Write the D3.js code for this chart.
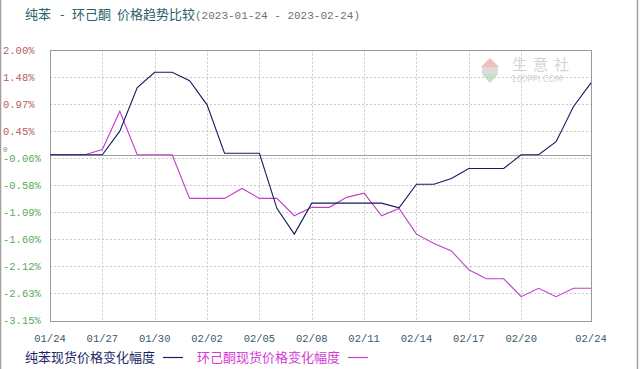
<!DOCTYPE html>
<html><head><meta charset="utf-8">
<script src="https://cdn.jsdelivr.net/npm/d3@7"></script>
<style>body{margin:0;background:#fff;}svg{display:block;}</style>
</head><body>
<svg id="c" width="640" height="369"></svg>
<script>
const dates = ["2023-01-24","2023-01-25","2023-01-26","2023-01-27","2023-01-28","2023-01-29","2023-01-30","2023-01-31",
"2023-02-01","2023-02-02","2023-02-03","2023-02-04","2023-02-05","2023-02-06","2023-02-07","2023-02-08",
"2023-02-09","2023-02-10","2023-02-11","2023-02-12","2023-02-13","2023-02-14","2023-02-15","2023-02-16",
"2023-02-17","2023-02-18","2023-02-19","2023-02-20","2023-02-21","2023-02-22","2023-02-23","2023-02-24"];
const benzene = [0,0,0,0,0.45,1.28,1.57,1.57,1.41,0.95,0.03,0.03,0.03,-1.02,-1.51,-0.92,
-0.92,-0.92,-0.92,-0.92,-1.01,-0.56,-0.56,-0.45,-0.26,-0.26,-0.26,0,0,0.25,0.92,1.37];
const cyclohexanone = [0,0,0,0.10,0.83,0,0,0,-0.83,-0.83,-0.83,-0.64,-0.83,-0.83,-1.16,-1.0,
-1.0,-0.81,-0.73,-1.16,-1.02,-1.51,-1.69,-1.83,-2.19,-2.36,-2.36,-2.70,-2.54,-2.70,-2.54,-2.54];
const seriesNames = ["纯苯现货价格变化幅度","环己酮现货价格变化幅度"];
const yTickValues = [2.00,1.485,0.97,0.455,-0.06,-0.575,-1.09,-1.605,-2.12,-2.635,-3.15];
const yTickLabels = ["2.00%","1.48%","0.97%","0.45%","-0.06%","-0.58%","-1.09%","-1.60%","-2.12%","-2.63%","-3.15%"];
const xTickDates = ["2023-01-24","2023-01-27","2023-01-30","2023-02-02","2023-02-05","2023-02-08","2023-02-11","2023-02-14","2023-02-17","2023-02-20","2023-02-24"];
const xTickLabels = ["01/24","01/27","01/30","02/02","02/05","02/08","02/11","02/14","02/17","02/20","02/24"];
const titleParts = ["纯苯","-","环己酮","价格趋势比较"];
const titleRange = "(2023-01-24 - 2023-02-24)";

const svg = d3.select("#c");
const L=50, R=591, T=49.7, B=320.3;
const parse = d3.timeParse("%Y-%m-%d");
const x = d3.scaleTime().domain([parse(dates[0]), parse(dates[dates.length-1])]).range([L,R]);
const y = d3.scaleLinear().domain([-3.15,2.00]).range([B,T]);

// outer side borders
svg.append("line").attr("x1",0.5).attr("x2",0.5).attr("y1",0).attr("y2",369).attr("stroke","#a0a0a0").attr("stroke-width",1.5);
svg.append("line").attr("x1",637.5).attr("x2",637.5).attr("y1",0).attr("y2",369).attr("stroke","#a0a0a0").attr("stroke-width",1.5);

// title
const tx = [25,60,72,117];
titleParts.forEach((p,i)=>{
  svg.append("text").attr("x",tx[i]).attr("y",19).attr("font-size",13).attr("fill","#2b5f6b")
    .attr("font-family","'Noto Sans CJK SC',sans-serif").text(p);
});
svg.append("text").attr("x",195).attr("y",19).attr("fill","#707070").attr("font-family","'Liberation Mono',monospace")
  .attr("font-size",11).text(titleRange);

// watermark
const wm = svg.append("g").attr("opacity",0.45);
wm.append("path").attr("d","M481,67 L490,58 L499,67 Z").attr("fill","#e07070");
wm.append("rect").attr("x",482).attr("y",67).attr("width",16).attr("height",7).attr("fill","#b0b0b0");
wm.append("path").attr("d","M482,74 L498,74 L490,83 Z").attr("fill","#80c080");
wm.append("text").attr("x",512).attr("y",70).attr("font-size",15).attr("fill","#9aa0a8").attr("letter-spacing",6).attr("font-family","'Noto Sans CJK SC',sans-serif").text("生意社");
wm.append("text").attr("x",511).attr("y",82).attr("font-size",8.5).attr("fill","#9aa0a8").attr("font-family","'DejaVu Sans',sans-serif").text("100PPI.COM");

// grid
const g = svg.append("g");
g.selectAll("line.h").data(yTickValues.slice(1,-1)).join("line")
  .attr("x1",L).attr("x2",R).attr("y1",d=>Math.round(y(d))+0.5).attr("y2",d=>Math.round(y(d))+0.5)
  .attr("stroke","#c8c8c8").attr("stroke-dasharray","2,2");
g.selectAll("line.v").data(xTickDates.slice(1,-1)).join("line")
  .attr("x1",d=>Math.round(x(parse(d)))+0.5).attr("x2",d=>Math.round(x(parse(d)))+0.5).attr("y1",T).attr("y2",B)
  .attr("stroke","#c8c8c8").attr("stroke-dasharray","2,2");
// frame
svg.append("rect").attr("x",L+0.5).attr("y",Math.round(T)+0.5).attr("width",R-L).attr("height",Math.round(B-T))
  .attr("fill","none").attr("stroke","#9a9a9a");
// zero line
svg.append("line").attr("x1",L).attr("x2",R).attr("y1",Math.round(y(0))+0.5).attr("y2",Math.round(y(0))+0.5).attr("stroke","#a0a0a0");

// y labels
svg.selectAll("text.yl").data(yTickValues).join("text")
  .attr("x",3).attr("y",d=>y(d)+4).attr("font-size",10.5).attr("font-family","'Liberation Mono',monospace")
  .attr("fill",(d,i)=>i<4?"#b85c5c":"#5aa85a").text((d,i)=>yTickLabels[i]);
svg.append("text").attr("x",3).attr("y",y(0)-3).attr("font-size",7.5).attr("font-family","'Liberation Mono',monospace").attr("fill","#888").text("0");

// x labels
svg.selectAll("text.xl").data(xTickDates).join("text")
  .attr("x",d=>x(parse(d))).attr("y",342).attr("text-anchor","middle").attr("font-size",10.5)
  .attr("font-family","'Liberation Mono',monospace").attr("fill","#3a5868").text((d,i)=>xTickLabels[i]);

// lines
const line = d3.line().x((d,i)=>x(parse(dates[i]))).y(d=>y(d));
svg.append("path").datum(cyclohexanone).attr("d",line).attr("fill","none").attr("stroke","#c040c8").attr("stroke-width",1.1);
svg.append("path").datum(benzene).attr("d",line).attr("fill","none").attr("stroke","#141a5e").attr("stroke-width",1.1);

// legend
const colors = ["#1a1f66","#d33bd3"];
const lx = [25,197], lineX = [163,348];
seriesNames.forEach((n,i)=>{
  svg.append("text").attr("x",lx[i]).attr("y",362).attr("font-size",13).attr("font-family","'Noto Sans CJK SC',sans-serif").attr("fill",colors[i]).text(n);
  svg.append("line").attr("x1",lineX[i]).attr("x2",lineX[i]+20).attr("y1",357.5).attr("y2",357.5).attr("stroke",colors[i]).attr("stroke-width",1.2);
});
</script>
</body></html>
